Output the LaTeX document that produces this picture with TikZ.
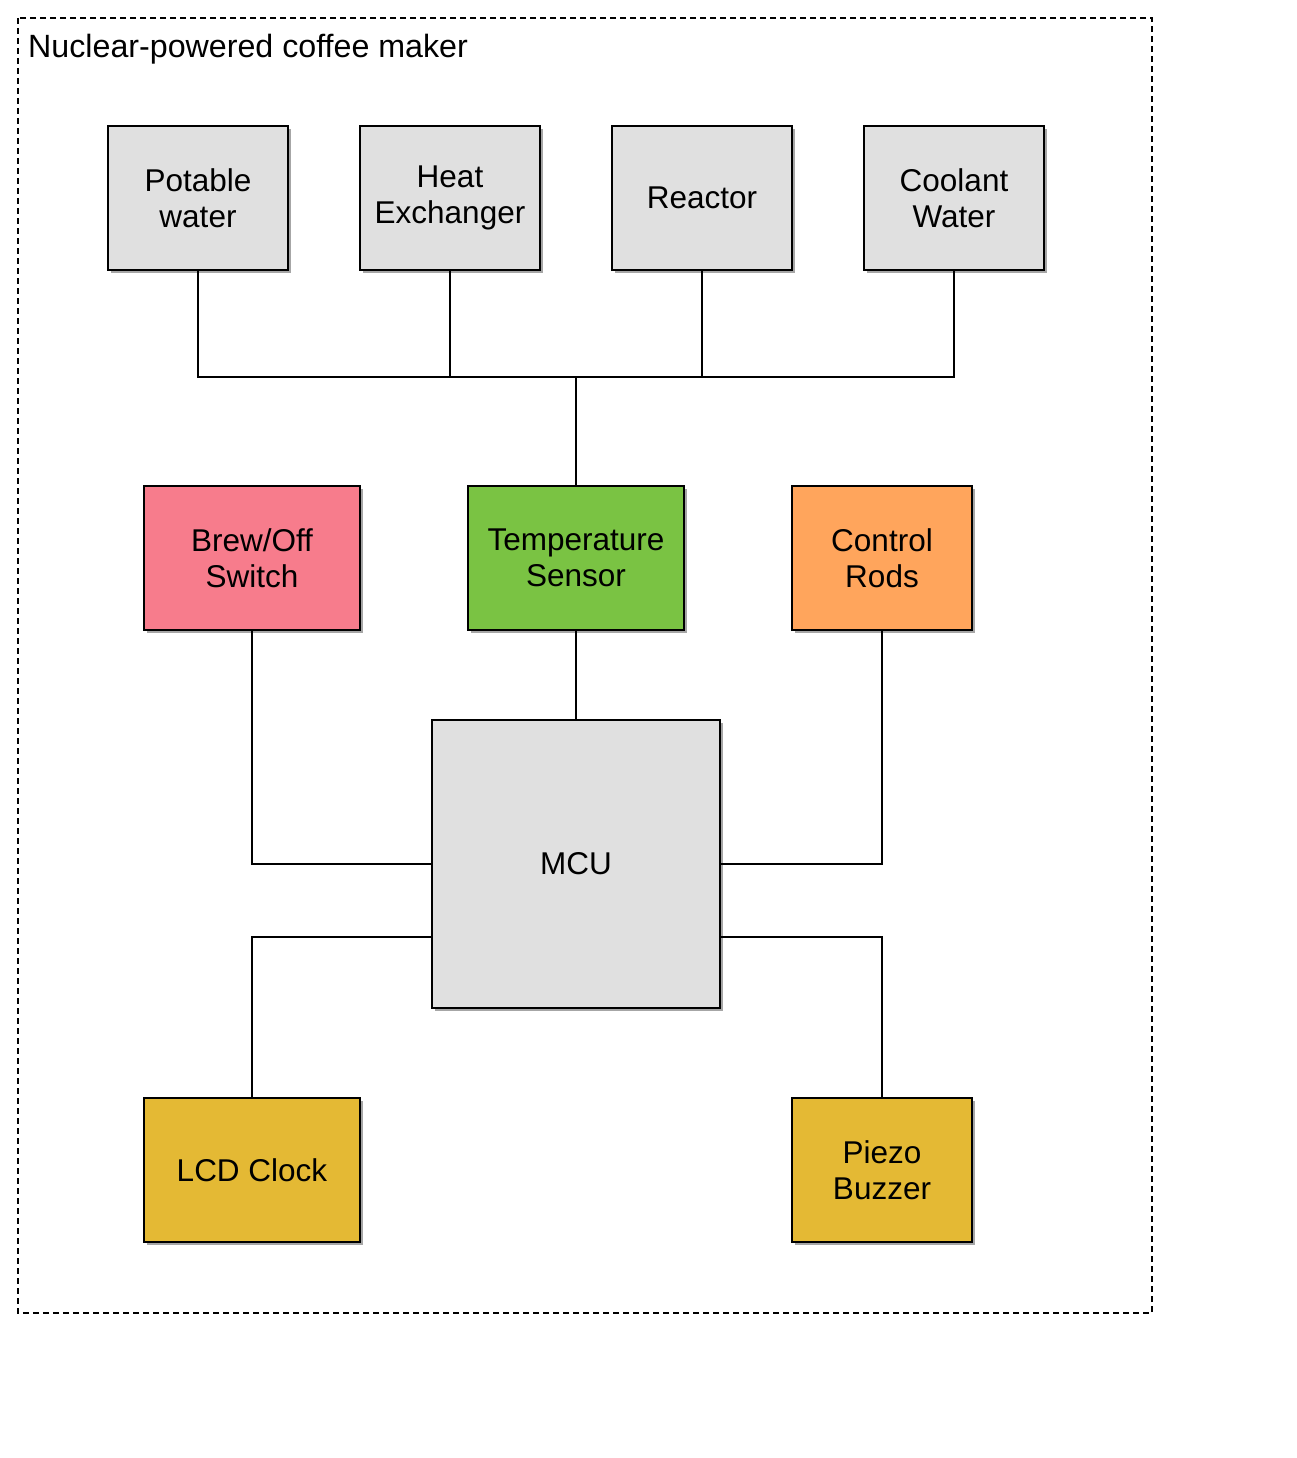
\documentclass[tikz,border=0pt]{standalone}
\usepackage{fontspec}
\setmainfont{Liberation Sans}
\usetikzlibrary{shadows,calc}
\definecolor{boxgray}{HTML}{E0E0E0}
\definecolor{brewpink}{HTML}{F77C8C}
\definecolor{tempgreen}{HTML}{7AC343}
\definecolor{rodorange}{HTML}{FFA55C}
\definecolor{clockyellow}{HTML}{E4B934}
\tikzset{
  blk/.style={draw=black, line width=2pt, inner sep=0pt, align=center,
    font=\fontsize{31.5}{35.5}\selectfont,
    drop shadow={shadow xshift=3pt, shadow yshift=-3pt, fill=black, opacity=0.35}},
  wire/.style={draw=black, line width=2pt},
  frame/.style={draw=black, line width=1.5pt, dash pattern=on 6pt off 4pt}
}
\begin{document}
\begin{tikzpicture}[x=1pt,y=-1pt]
\useasboundingbox (0,0) rectangle (1296,1458);
\draw[frame] (18,18) rectangle (1152,1313);
\node[anchor=base west, inner sep=0pt, font=\fontsize{32.2}{36}\selectfont] (title) at (28,58) {Nuclear-powered coffee maker};

\node[blk, fill=boxgray, minimum width=180pt, minimum height=144pt] (pw) at (198,198) {Potable\\water};
\node[blk, fill=boxgray, minimum width=180pt, minimum height=144pt] (he) at (450,198) {Heat\\Exchanger};
\node[blk, fill=boxgray, minimum width=180pt, minimum height=144pt] (re) at (702,198) {Reactor};
\node[blk, fill=boxgray, minimum width=180pt, minimum height=144pt] (cw) at (954,198) {Coolant\\Water};

\node[blk, fill=brewpink, minimum width=216pt, minimum height=144pt] (bs) at (252,558) {Brew/Off\\Switch};
\node[blk, fill=tempgreen, minimum width=216pt, minimum height=144pt] (ts) at (576,558) {Temperature\\Sensor};
\node[blk, fill=rodorange, minimum width=180pt, minimum height=144pt] (cr) at (882,558) {Control\\Rods};

\node[blk, fill=boxgray, minimum width=288pt, minimum height=288pt] (mcu) at (576,864) {MCU};

\node[blk, fill=clockyellow, minimum width=216pt, minimum height=144pt] (lcd) at (252,1170) {LCD Clock};
\node[blk, fill=clockyellow, minimum width=180pt, minimum height=144pt] (pz) at (882,1170) {Piezo\\Buzzer};

\coordinate (bus) at (576,377);
\draw[wire] (pw.south) |- (bus);
\draw[wire] (he.south) |- (bus);
\draw[wire] (re.south) |- (bus);
\draw[wire] (cw.south) |- (bus);
\draw[wire] (bus) -- (ts.north);
\draw[wire] (ts.south) -- (mcu.north);
\draw[wire] (bs.south) |- (mcu.west);
\draw[wire] (cr.south) |- (mcu.east);
\coordinate (ml) at ($(mcu.west)!0.5!(mcu.south west)$);
\coordinate (mr) at ($(mcu.east)!0.5!(mcu.south east)$);
\draw[wire] (ml) -| (lcd.north);
\draw[wire] (mr) -| (pz.north);
\end{tikzpicture}
\end{document}
